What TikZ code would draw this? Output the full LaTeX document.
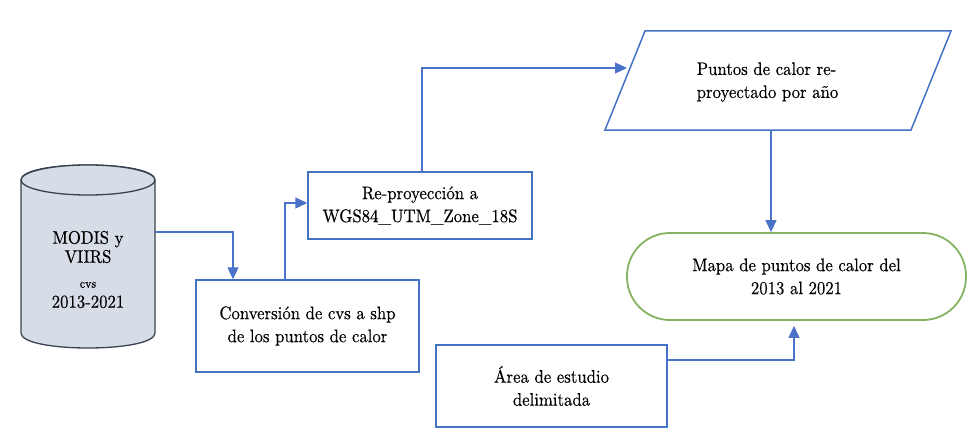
\documentclass[tikz,border=0pt]{standalone}
\usepackage{fontspec}
\setmainfont{lmroman10-regular.otf}[FakeStretch=0.92, FakeBold=0.4]
\usetikzlibrary{arrows.meta}
\definecolor{boxblue}{HTML}{4472C4}
\definecolor{arrblue}{HTML}{4A72C8}
\definecolor{mapgreen}{HTML}{86B262}
\definecolor{cylfill}{HTML}{D7DDE6}
\definecolor{cylline}{HTML}{3A4150}
\begin{document}
\begin{tikzpicture}[x=1pt,y=-1pt,
  txt/.style={font=\fontsize{18.2}{23}\selectfont, align=center, inner sep=0pt},
  bluebox/.style={txt, draw=boxblue, line width=1.5pt, fill=white},
  arr/.style={draw=arrblue, line width=1.2pt, -{Triangle[length=12pt,width=11pt]}},
]
\useasboundingbox (0,0) rectangle (972,444);
% cylinder
\path[fill=cylfill, draw=cylline, line width=1.3pt] (21,180) -- (21,333) .. controls (21,353) and (155,353) .. (155,333) -- (155,180) .. controls (155,160) and (21,160) .. (21,180) -- cycle;
\path[fill=cylfill, draw=cylline, line width=1.3pt] (88,180) ellipse [x radius=67, y radius=15];
\node[txt, font=\fontsize{18.2}{19}\selectfont, minimum width=134pt] (cyl) at (88,269.5) {MODIS y\\VIIRS\\[6pt]{\fontsize{13}{13}\selectfont cvs}\\[1pt]2013-2021};
% boxes
\node[bluebox, minimum width=223pt, minimum height=92pt] (conv) at (307.5,326) {Conversión de cvs a shp\\de los puntos de calor};
\node[bluebox, minimum width=224pt, minimum height=67pt] (reproj) at (420,205.5) {Re-proyección a\\WGS84\_UTM\_Zone\_18S};
\path[draw=boxblue, line width=1.5pt, fill=white] (605,130) -- (645,31) -- (951,31) -- (911,130) -- cycle;
\node[txt, align=left] (para) at (767.5,82) {Puntos de calor re-\\proyectado por año};
\coordinate (parain) at (627,68);
\coordinate (parabot) at (771,130);
\node[txt, draw=mapgreen, line width=1.8pt, rounded corners=43pt, minimum width=339pt, minimum height=87pt] (mapa) at (796.5,276.5) {Mapa de puntos de calor del\\2013 al 2021};
\node[bluebox, minimum width=231pt, minimum height=82pt] (area) at (551.5,386) {Área de estudio\\delimitada};
% connectors
\coordinate (cylout) at (155,232);
\draw[arr] (cylout) -| ([xshift=-74.5pt]conv.north);
\draw[arr] ([xshift=-22.5pt]conv.north) |- ([yshift=2.5pt]reproj.west);
\draw[arr] ([xshift=2pt]reproj.north) |- (parain);
\draw[arr] (parabot) -- (parabot |- mapa.north);
\draw[arr, shorten >=5pt] ([yshift=26pt]area.east) -| ([xshift=-2.5pt]mapa.south);
\end{tikzpicture}
\end{document}
